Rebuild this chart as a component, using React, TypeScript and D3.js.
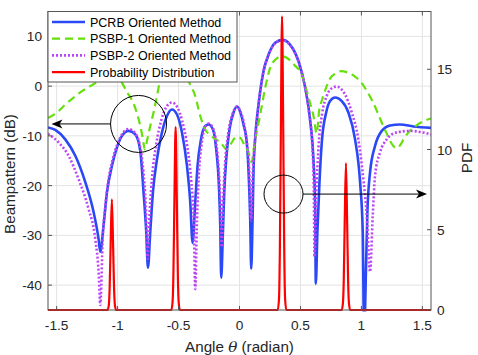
import * as d3 from "d3";
import React from "react";

// PCRB oriented method, [angle (rad), beampattern (dB)]
const pcrbPoints: [number, number][] = [
  [-1.571, -8.3], [-1.511, -8.8], [-1.429, -10.7], [-1.347, -14], [-1.265, -19.3], [-1.197, -25.3], [-1.156, -30.7], [-1.142, -33.3],
  [-1.115, -28], [-1.087, -21.3], [-1.046, -16], [-1.005, -12.3], [-0.964, -10], [-0.91, -9], [-0.855, -9.7], [-0.814, -13], [-0.787, -21.3], [-0.765, -29.3], [-0.751, -36.5],
  [-0.732, -29.3], [-0.71, -21.3], [-0.677, -14.7], [-0.636, -9.3], [-0.595, -6], [-0.554, -4.7], [-0.513, -5.7], [-0.472, -9.3], [-0.431, -16], [-0.404, -23.3], [-0.385, -31.5],
  [-0.363, -23.3], [-0.344, -16], [-0.316, -10.7], [-0.281, -8], [-0.254, -7.7], [-0.218, -8.7], [-0.191, -12.7], [-0.169, -20], [-0.158, -28], [-0.15, -38.5],
  [-0.136, -29.3], [-0.125, -21.3], [-0.109, -14.7], [-0.082, -8.7], [-0.049, -5.3], [-0.021, -4.1], [0.006, -5.2], [0.033, -7.7], [0.061, -11.7], [0.074, -17], [0.088, -27], [0.096, -36.7],
  [0.107, -27], [0.115, -17], [0.129, -10.3], [0.156, -3.7], [0.197, 3], [0.238, 6.3], [0.293, 8.7], [0.352, 9.3], [0.416, 8.3], [0.484, 5], [0.539, -0.3], [0.58, -7], [0.607, -15], [0.62, -23.7], [0.626, -39.7],
  [0.639, -29.3], [0.656, -19.3], [0.675, -11.3], [0.711, -5.3], [0.743, -3], [0.784, -2.3], [0.839, -3], [0.893, -5.3], [0.948, -10.7], [0.989, -19.3], [1.011, -29.3], [1.022, -50],
  [1.039, -35.3], [1.049, -25.3], [1.071, -17.3], [1.112, -12], [1.167, -9], [1.235, -7.9], [1.317, -7.7], [1.426, -8.1], [1.571, -8.4],
];

// PSBP-1 oriented method
const psbp1Points: [number, number][] = [
  [-1.571, -6.4], [-1.497, -5.3], [-1.429, -3.7], [-1.361, -2.3], [-1.292, -1], [-1.224, 0], [-1.156, 1], [-1.093, 2], [-1.035, 2.4], [-0.994, 2], [-0.964, 0.7],
  [-0.923, -1.2], [-0.882, -2.8], [-0.847, -5], [-0.814, -8], [-0.793, -10.5], [-0.777, -12.7], [-0.757, -10.8], [-0.732, -8], [-0.705, -5.3], [-0.677, -2], [-0.65, 1.3],
  [-0.609, 3.2], [-0.552, 4], [-0.486, 3.2], [-0.437, 1.8], [-0.404, 0.3], [-0.363, -2], [-0.322, -6], [-0.281, -8.7], [-0.24, -9.9], [-0.199, -10.6], [-0.158, -11.3],
  [-0.103, -12.7], [-0.068, -11.5], [-0.027, -10.2], [0.006, -10.4], [0.043, -12], [0.074, -13.3], [0.1, -15.3], [0.12, -12], [0.143, -9], [0.17, -5.7], [0.211, -0.3],
  [0.252, 3.7], [0.293, 5.3], [0.348, 6], [0.399, 5.5], [0.448, 4.3], [0.511, 2.3], [0.552, -1], [0.58, -3.5], [0.607, -6], [0.633, -9.5], [0.653, -5], [0.678, -2.7],
  [0.711, -0.3], [0.743, 1.5], [0.784, 2.5], [0.834, 3], [0.891, 2.7], [0.948, 1.9], [1.006, 0.5], [1.047, -1.1], [1.088, -2.9], [1.129, -5.1], [1.17, -7.5],
  [1.211, -9.7], [1.26, -12], [1.289, -12.5], [1.317, -11.9], [1.35, -10.5], [1.393, -9.1], [1.44, -8.1], [1.489, -7.3], [1.571, -6.5],
];

// PSBP-2 oriented method
const psbp2Points: [number, number][] = [
  [-1.571, -9.6], [-1.484, -11.3], [-1.402, -14], [-1.32, -18.7], [-1.238, -24.7], [-1.183, -30.7], [-1.154, -38], [-1.142, -44],
  [-1.121, -30], [-1.1, -24], [-1.076, -19], [-1.043, -15], [-1.002, -11.7], [-0.961, -9.6], [-0.91, -8.6], [-0.859, -9.4], [-0.818, -11.8], [-0.789, -17], [-0.769, -24], [-0.754, -34.7],
  [-0.736, -25], [-0.716, -18], [-0.683, -11.7], [-0.641, -6.8], [-0.6, -4.2], [-0.554, -3.3], [-0.511, -4.2], [-0.47, -7], [-0.429, -12], [-0.396, -19], [-0.375, -27], [-0.363, -40.8],
  [-0.349, -27], [-0.334, -18], [-0.31, -11.5], [-0.281, -8.2], [-0.254, -7.5], [-0.22, -8.3], [-0.191, -11.5], [-0.171, -16.5], [-0.156, -24], [-0.146, -32.3],
  [-0.134, -23], [-0.117, -15], [-0.093, -9.5], [-0.06, -5.8], [-0.021, -4.1], [0.006, -5], [0.034, -7.2], [0.059, -11], [0.08, -17], [0.096, -27],
  [0.108, -18], [0.129, -10.5], [0.156, -3.8], [0.197, 3], [0.238, 6.3], [0.293, 8.6], [0.352, 9.2], [0.416, 8.2], [0.484, 4.9], [0.539, -0.4], [0.572, -5.5], [0.597, -12], [0.609, -20], [0.615, -34.3],
  [0.629, -22], [0.649, -12], [0.678, -5.5], [0.715, -2], [0.743, -0.7], [0.795, -0.1], [0.866, -1.7], [0.921, -5.3], [0.975, -10.7], [1.016, -18.7], [1.044, -26], [1.071, -37.3],
  [1.093, -26], [1.112, -18], [1.153, -13.3], [1.208, -10.7], [1.29, -9.3], [1.399, -9], [1.571, -9.7],
];

// probability distribution (right axis)
const pdfPoints: [number, number][] = [
  [-1.571, 0],
  [-1.082, 0], [-1.072, 0.3], [-1.065, 1.4], [-1.057, 4.1], [-1.047, 6.9], [-1.037, 4.1], [-1.029, 1.4], [-1.022, 0.3], [-1.012, 0],
  [-0.559, 0], [-0.549, 0.5], [-0.542, 2.3], [-0.534, 6.8], [-0.524, 11.4], [-0.514, 6.8], [-0.506, 2.3], [-0.499, 0.5], [-0.489, 0],
  [0.314, 0], [0.324, 0.7], [0.331, 3.7], [0.339, 11], [0.349, 18.3], [0.359, 11], [0.367, 3.7], [0.374, 0.7], [0.384, 0],
  [0.838, 0], [0.848, 0.4], [0.855, 1.8], [0.863, 5.5], [0.873, 9.15], [0.883, 5.5], [0.891, 1.8], [0.898, 0.4], [0.908, 0],
  [1.571, 0],
];

const xTicks = [-1.5, -1, -0.5, 0, 0.5, 1, 1.5];
const leftTicks = [-40, -30, -20, -10, 0, 10];
const rightTicks = [0, 5, 10, 15];

const legendNames = ["PCRB Oriented Method", "PSBP-1 Oriented Method", "PSBP-2 Oriented Method", "Probability Distribution"];

const W = 478;
const H = 355;
const margin = { top: 11.5, right: 47, bottom: 45, left: 48 };
const font = "'Liberation Sans', Arial, Helvetica, sans-serif";

const App = () => {
  const left = margin.left;
  const right = W - margin.right;
  const top = margin.top;
  const bottom = H - margin.bottom;

  const x = d3.scaleLinear().domain([-Math.PI / 2, Math.PI / 2]).range([left, right]);
  const yL = d3.scaleLinear().domain([-45, 15]).range([bottom, top]);
  const yR = d3.scaleLinear().domain([0, 18.6]).range([bottom, top]);

  const lineL = d3.line<[number, number]>().x((d) => x(d[0])).y((d) => yL(d[1])).curve(d3.curveMonotoneX);
  const lineR = d3.line<[number, number]>().x((d) => x(d[0])).y((d) => yR(d[1])).curve(d3.curveMonotoneX);

  const series = [
    { pts: pcrbPoints, color: "#2a48f5", width: 2.6, dash: "" },
    { pts: psbp1Points, color: "#66e00a", width: 2.2, dash: "8,5" },
    { pts: psbp2Points, color: "#bd45f5", width: 2.6, dash: "2,2" },
  ];
  const legendStyles = [
    { color: "#2a48f5", width: 2.6, dash: "" },
    { color: "#66e00a", width: 2.2, dash: "8,5" },
    { color: "#bd45f5", width: 2.6, dash: "2,2" },
    { color: "#ff0000", width: 2.2, dash: "" },
  ];

  const axisColor = "#555";
  const gridColor = "#e3e3e3";
  const tickLen = 4;

  // annotation positions in data coordinates
  const c1 = { cx: x(-0.828), cy: yL(-7.6), rx: 28, ry: 28.5 };
  const c2 = { cx: x(0.361), cy: yL(-21.7), rx: 19.5, ry: 19 };
  const a1y = c1.cy;
  const a1tip = left + 3.5;
  const a2y = c2.cy;
  const a2tip = right - 4;

  return (
    <svg width={W} height={H} style={{ position: "absolute", left: 0, top: 0, background: "#fff" }} fontFamily={font}>
      <defs>
        <clipPath id="plotClip">
          <rect x={left} y={top} width={right - left} height={bottom - top + 1.5} />
        </clipPath>
      </defs>
      <rect x={0} y={0} width={W} height={H} fill="#fff" />

      {/* grid */}
      {xTicks.map((t) => (
        <line key={"gx" + t} x1={x(t)} x2={x(t)} y1={top} y2={bottom} stroke={gridColor} strokeWidth={1} />
      ))}
      {leftTicks.map((t) => (
        <line key={"gy" + t} x1={left} x2={right} y1={yL(t)} y2={yL(t)} stroke={gridColor} strokeWidth={1} />
      ))}

      {/* curves */}
      <g clipPath="url(#plotClip)">
        {series.map((s, i) => (
          <path key={i} d={lineL(s.pts) ?? ""} fill="none" stroke={s.color} strokeWidth={s.width} strokeDasharray={s.dash || undefined} strokeLinejoin="round" />
        ))}
        <path d={lineR(pdfPoints) ?? ""} fill="none" stroke="#ff0000" strokeWidth={2.2} strokeLinejoin="round" />
      </g>

      {/* axes box */}
      <rect x={left} y={top} width={right - left} height={bottom - top} fill="none" stroke={axisColor} strokeWidth={1} />

      {/* x ticks */}
      {xTicks.map((t) => (
        <g key={"xt" + t}>
          <line x1={x(t)} x2={x(t)} y1={bottom} y2={bottom - tickLen} stroke={axisColor} />
          <line x1={x(t)} x2={x(t)} y1={top} y2={top + tickLen} stroke={axisColor} />
          <text x={x(t)} y={bottom + 20} textAnchor="middle" fontSize={13.7} fill="#262626">
            {String(t)}
          </text>
        </g>
      ))}
      {/* left ticks */}
      {leftTicks.map((t) => (
        <g key={"lt" + t}>
          <line x1={left} x2={left + tickLen} y1={yL(t)} y2={yL(t)} stroke={axisColor} />
          <text x={left - 6} y={yL(t) + 5} textAnchor="end" fontSize={13.7} fill="#262626">
            {String(t)}
          </text>
        </g>
      ))}
      {/* right ticks */}
      {rightTicks.map((t) => (
        <g key={"rt" + t}>
          <line x1={right} x2={right - tickLen} y1={yR(t)} y2={yR(t)} stroke={axisColor} />
          <text x={right + 6} y={yR(t) + 5} textAnchor="start" fontSize={13.7} fill="#262626">
            {String(t)}
          </text>
        </g>
      ))}

      {/* axis labels */}
      <text x={(left + right) / 2} y={352} textAnchor="middle" fontSize={15.2} fill="#262626">
        Angle <tspan fontStyle="italic" fontFamily="'DejaVu Serif', serif">θ</tspan> (radian)
      </text>
      <text transform={`translate(15, 174) rotate(-90)`} textAnchor="middle" fontSize={15.2} fill="#262626">
        Beampattern (dB)
      </text>
      <text transform={`translate(472, 158) rotate(-90)`} textAnchor="middle" fontSize={15.2} fill="#262626">
        PDF
      </text>

      {/* annotations */}
      <ellipse cx={c1.cx} cy={c1.cy} rx={c1.rx} ry={c1.ry} fill="none" stroke="#000" strokeWidth={1} />
      <line x1={c1.cx - c1.rx} x2={a1tip + 6} y1={a1y} y2={a1y} stroke="#000" strokeWidth={1} />
      <path d={`M${a1tip},${a1y} L${a1tip + 11},${a1y - 4.5} L${a1tip + 8},${a1y} L${a1tip + 11},${a1y + 4.5} Z`} fill="#000" />
      <ellipse cx={c2.cx} cy={c2.cy} rx={c2.rx} ry={c2.ry} fill="none" stroke="#000" strokeWidth={1} />
      <line x1={c2.cx + c2.rx} x2={a2tip - 6} y1={a2y} y2={a2y} stroke="#000" strokeWidth={1} />
      <path d={`M${a2tip},${a2y} L${a2tip - 11},${a2y - 4.5} L${a2tip - 8},${a2y} L${a2tip - 11},${a2y + 4.5} Z`} fill="#000" />

      {/* legend */}
      <g>
        <rect x={left} y={top} width={189} height={70.5} fill="#fff" stroke={axisColor} strokeWidth={1} />
        {legendNames.map((name, i) => {
          const ly = top + 10.5 + i * 16.7;
          const st = legendStyles[i];
          return (
            <g key={name}>
              <line x1={left + 4} x2={left + 37} y1={ly} y2={ly} stroke={st.color} strokeWidth={st.width} strokeDasharray={st.dash || undefined} />
              <text x={left + 42} y={ly + 4.5} fontSize={12.5} fill="#000">
                {name}
              </text>
            </g>
          );
        })}
      </g>
    </svg>
  );
};

export default App;
